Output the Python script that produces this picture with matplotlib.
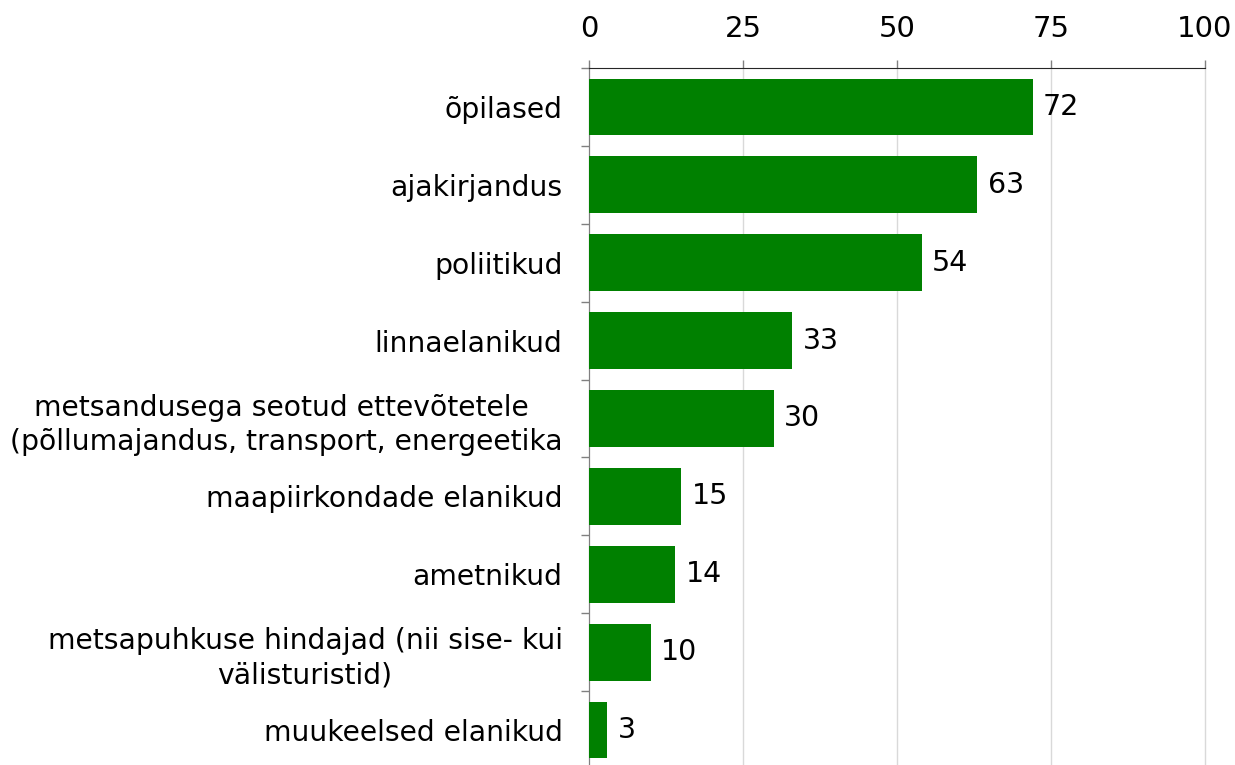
import matplotlib
matplotlib.use("Agg")
import matplotlib.pyplot as plt
import numpy as np

categories = [
    "õpilased",
    "ajakirjandus",
    "poliitikud",
    "linnaelanikud",
    "metsandusega seotud ettevõtetele \n(põllumajandus, transport, energeetika",
    "maapiirkondade elanikud",
    "ametnikud",
    "metsapuhkuse hindajad (nii sise- kui\nvälisturistid)",
    "muukeelsed elanikud",
]
values = [72, 63, 54, 33, 30, 15, 14, 10, 3]
xticks = [0, 25, 50, 75, 100]

plt.rcParams['font.family'] = ['DejaVu Sans']
fig = plt.figure(figsize=(12.35, 7.65), dpi=100)
ax = fig.add_axes([589/1235, 1 - 769/765, (1205-589)/1235, (769-68)/765])

y = np.arange(len(categories))
ax.barh(y, values, height=0.73, color="#008000", zorder=3)
for yi, v in zip(y, values):
    ax.text(v + 1.7, yi, str(v), va="center", ha="left", fontsize=20.5, color="black")

ax.set_xlim(0, 100)
ax.set_ylim(len(categories) - 0.5, -0.5)
ax.xaxis.tick_top()
ax.set_xticks(xticks)
ax.set_xticklabels([str(t) for t in xticks], fontsize=21)
ax.tick_params(axis="x", direction="out", length=6, width=1, color="#808080", pad=12)
ax.xaxis.grid(True, color="#d9d9d9", linewidth=1, zorder=0)
for gl in ax.get_xgridlines():
    gl.set_clip_on(False)

ax.set_yticks(y)
ax.set_yticklabels(categories, fontsize=20.3, multialignment="center", linespacing=1.3)
ax.tick_params(axis="y", which="major", length=0, pad=19)
ax.set_yticks(np.arange(-0.5, len(categories) + 0.5, 1), minor=True)
ax.tick_params(axis="y", which="minor", length=6, width=1, color="#808080", direction="out")

for s in ["right", "bottom"]:
    ax.spines[s].set_visible(False)
ax.spines["top"].set_color("#262626")
ax.spines["left"].set_color("#808080")

fig.savefig("out.png", dpi=100)
